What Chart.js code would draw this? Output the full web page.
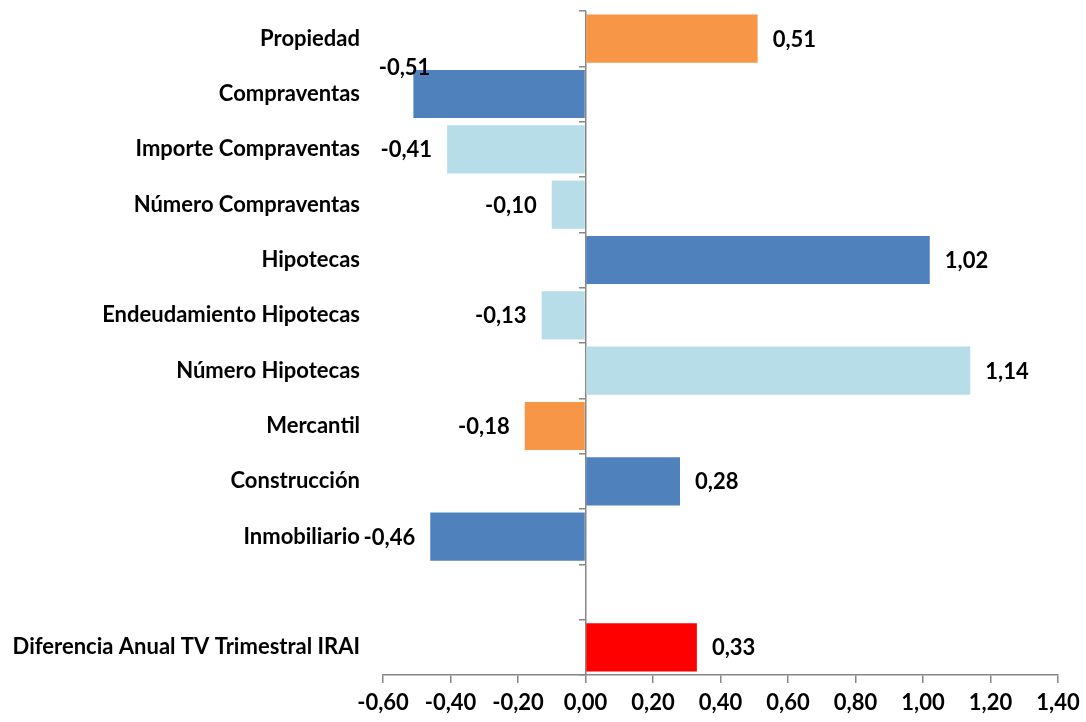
<!DOCTYPE html>
<html>
<head>
<meta charset="utf-8">
<script src="https://cdn.jsdelivr.net/npm/chart.js@4.4.1/dist/chart.umd.min.js"></script>
<style>
  html, body { margin: 0; padding: 0; background: #ffffff; }
  #wrap { width: 1086px; height: 722px; position: relative; }
</style>
</head>
<body>
<div id="wrap"><canvas id="c"></canvas></div>
<script>
// Categories (top to bottom); the blank entry leaves a gap row
const categories = [
  'Propiedad',
  'Compraventas',
  'Importe Compraventas',
  'Número Compraventas',
  'Hipotecas',
  'Endeudamiento Hipotecas',
  'Número Hipotecas',
  'Mercantil',
  'Construcción',
  'Inmobiliario',
  '',
  'Diferencia Anual TV Trimestral IRAI'
];
const values = [0.51, -0.51, -0.41, -0.10, 1.02, -0.13, 1.14, -0.18, 0.28, -0.46, null, 0.33];
const xTicks = [-0.6, -0.4, -0.2, 0, 0.2, 0.4, 0.6, 0.8, 1.0, 1.2, 1.4];

const ORANGE = '#F79646', DBLUE = '#4F81BD', LBLUE = '#B7DEE8', RED = '#FF0000';
const barColors = [ORANGE, DBLUE, LBLUE, LBLUE, DBLUE, LBLUE, LBLUE, ORANGE, DBLUE, DBLUE, DBLUE, RED];

const AXIS = '#868686';
const FONT = 'Lato, "Open Sans", sans-serif';
const FSIZE = 22;
const fmt = v => v.toFixed(2).replace('.', ',');

// Value labels at the end of each bar
const valueLabels = {
  id: 'valueLabels',
  afterDatasetsDraw(chart) {
    const ctx = chart.ctx;
    const meta = chart.getDatasetMeta(0);
    ctx.save();
    ctx.font = 'bold ' + FSIZE + 'px ' + FONT;
    ctx.fillStyle = '#000';
    ctx.textBaseline = 'middle';
    meta.data.forEach((bar, i) => {
      const v = values[i];
      if (v === null || v === undefined) return;
      const gap = 15;
      let x, y = bar.y + 1;
      if (v >= 0) {
        ctx.textAlign = 'left';
        x = bar.x + gap;
      } else {
        ctx.textAlign = 'right';
        x = bar.x - gap;
      }
      // the Compraventas label sits raised over the bar's top edge
      if (i === 1) { x = bar.x + 17; y = bar.y - 26; }
      ctx.fillText(fmt(v), x, y);
    });
    ctx.restore();
  }
};

new Chart(document.getElementById('c'), {
  type: 'bar',
  data: {
    labels: categories,
    datasets: [{
      data: values,
      backgroundColor: barColors,
      borderColor: barColors,
      borderWidth: 0,
      barPercentage: 0.87,
      categoryPercentage: 1.0
    }]
  },
  options: {
    indexAxis: 'y',
    responsive: true,
    maintainAspectRatio: false,
    animation: false,
    layout: { padding: { top: 11, right: 28, left: 0, bottom: 0 } },
    plugins: { legend: { display: false }, tooltip: { enabled: false } },
    scales: {
      x: {
        type: 'linear',
        min: -0.6,
        max: 1.4,
        afterBuildTicks: s => { s.ticks = xTicks.map(v => ({ value: v })); },
        afterFit: s => { s.height = 47; s.paddingLeft = 0; s.paddingRight = 0; },
        border: { display: true, color: AXIS, width: 1.5 },
        grid: {
          drawOnChartArea: true,
          drawTicks: true,
          tickLength: 8,
          tickColor: AXIS,
          // only the zero value gets a line across the plot
          color: c => (c.tick && c.tick.value === 0 ? AXIS : 'rgba(0,0,0,0)'),
          lineWidth: 1.5
        },
        ticks: {
          padding: 7,
          color: '#000',
          font: { family: FONT, size: FSIZE, weight: 'bold' },
          callback: v => fmt(v)
        }
      },
      y: {
        type: 'category',
        position: 'left',
        afterFit: s => { s.width = 383; s.paddingTop = 0; s.paddingBottom = 0; },
        border: { display: false },
        grid: { display: false },
        ticks: {
          padding: 15,
          color: '#000',
          autoSkip: false,
          font: { family: FONT, size: FSIZE, weight: 'bold' }
        }
      },
      y0: {
        type: 'category',
        axis: 'y',
        position: { x: 0 },
        offset: true,
        afterFit: s => { s.paddingTop = 0; s.paddingBottom = 0; },
        border: { display: false },
        grid: { drawOnChartArea: false, drawTicks: true, offset: true, tickLength: 7, color: AXIS, lineWidth: 1.5 },
        ticks: { display: false, autoSkip: false }
      }
    }
  },
  plugins: [valueLabels]
});
</script>
</body>
</html>
